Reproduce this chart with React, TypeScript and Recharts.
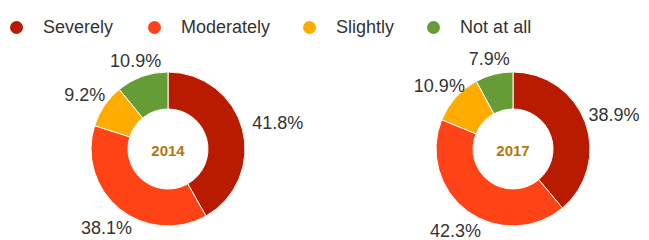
import React from "react";
import { PieChart, Pie, Cell, Label } from "recharts";

const categories = ["Severely", "Moderately", "Slightly", "Not at all"];
const colors = ["#b81b00", "#fe4316", "#ffab00", "#669c35"];
const values2014 = [41.8, 38.1, 9.2, 10.9];
const values2017 = [38.9, 42.3, 10.9, 7.9];
const years = ["2014", "2017"];

const FONT = "'Liberation Sans', Arial, Helvetica, sans-serif";
const RADIAN = Math.PI / 180;

const data2014 = categories.map((name, i) => ({ name, value: values2014[i] }));
const data2017 = categories.map((name, i) => ({ name, value: values2017[i] }));

// rough text width for digits / % at 18px
function textWidth(s: string) {
  let w = 0;
  for (const ch of s) {
    if (ch === ".") w += 5;
    else if (ch === "%") w += 16;
    else w += 10;
  }
  return w;
}

function renderLabel(props: any) {
  const { cx, cy, midAngle, value } = props;
  const text = `${Number(value).toFixed(1)}%`;
  const cos = Math.cos(-midAngle * RADIAN);
  const sin = Math.sin(-midAngle * RADIAN);
  const hw = textWidth(text) / 2;
  const hh = 6;
  const ext = Math.min(
    Math.abs(cos) > 0.001 ? hw / Math.abs(cos) : 999,
    Math.abs(sin) > 0.001 ? hh / Math.abs(sin) : 999
  );
  const d = 90 + ext;
  return (
    <text
      x={cx + d * cos}
      y={cy + d * sin + 3}
      fill="#333"
      fontSize={18}
      fontFamily={FONT}
      textAnchor="middle"
      dominantBaseline="central"
    >
      {text}
    </text>
  );
}

function CenterText({ x, y, text }: { x: number; y: number; text: string }) {
  return (
    <text
      x={x}
      y={y}
      fill="#b5770d"
      fontSize={15}
      fontWeight="bold"
      fontFamily={FONT}
      textAnchor="middle"
      dominantBaseline="central"
    >
      {text}
    </text>
  );
}

function LegendRow() {
  const gaps = [35, 33, 33, 0];
  return (
    <div
      style={{
        position: "absolute",
        left: 10,
        top: 17,
        display: "flex",
        alignItems: "center",
        fontFamily: FONT,
        fontSize: 18,
        color: "#333",
        lineHeight: "20px",
      }}
    >
      {categories.map((c, i) => (
        <div key={c} style={{ display: "flex", alignItems: "center", marginRight: gaps[i] }}>
          <svg width={13} height={13} style={{ marginRight: 20 }}>
            <circle cx={6.5} cy={6.5} r={6.5} fill={colors[i]} />
          </svg>
          <span>{c}</span>
        </div>
      ))}
    </div>
  );
}

export default function App() {
  const pies = [
    { data: data2014, cx: 168, year: years[0] },
    { data: data2017, cx: 513, year: years[1] },
  ];
  return (
    <div style={{ position: "absolute", left: 0, top: 0, width: 649, height: 240, background: "#fff" }}>
      <PieChart width={649} height={240} margin={{ top: 0, right: 0, bottom: 0, left: 0 }}>
        {pies.map((p) => (
          <Pie
            key={p.year}
            data={p.data}
            dataKey="value"
            nameKey="name"
            cx={p.cx}
            cy={149}
            innerRadius={40}
            outerRadius={77}
            startAngle={90}
            endAngle={-270}
            stroke="#fff"
            strokeWidth={1}
            label={renderLabel}
            labelLine={false}
            isAnimationActive={false}
          >
            {p.data.map((d, i) => (
              <Cell key={d.name} fill={colors[i]} />
            ))}
            <Label content={() => <CenterText x={p.cx} y={150} text={p.year} />} />
          </Pie>
        ))}
      </PieChart>
      <LegendRow />
    </div>
  );
}
